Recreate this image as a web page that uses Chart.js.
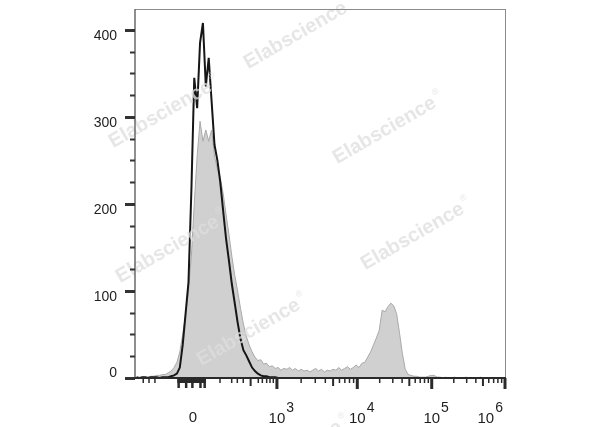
<!DOCTYPE html>
<html>
<head>
<meta charset="utf-8">
<title>Flow histogram</title>
<script src="https://cdn.jsdelivr.net/npm/chart.js@4.4.1/dist/chart.umd.min.js"></script>
<style>
  html, body { margin: 0; padding: 0; background: #ffffff; }
  canvas { display: block; }
</style>
</head>
<body>
<canvas id="histChart" width="600" height="427"></canvas>
<script>
// 128 bins of 2 channels each on a 256 channel (biexponential) display scale
const binWidth = 2;

// black outline histogram (stained sample)
const stainedCounts = [
  1, 0, 1, 1, 0, 1, 1, 1, 0, 1, 1, 1, 2,
  3, 5, 12, 38, 74, 110, 215, 345, 310, 385, 408, 335, 368, 318, 268,
  250, 225, 192, 160, 135, 108, 86, 64, 45, 32, 26, 19, 12, 8, 5, 3, 2, 2, 1, 1, 1,
  0, 0, 0, 0, 0, 0, 0, 0, 0, 0, 0, 0, 0, 0, 0, 0, 0, 0, 0, 0,
  0, 0, 0, 0, 0, 0, 0, 0, 0, 0, 0, 0, 0, 0, 0, 0, 0, 0, 0, 0,
  0, 0, 0, 0, 0, 0, 0, 0, 0, 0, 0, 0, 0, 0, 0, 0, 0, 0, 0, 0,
  0, 0, 0, 0, 0, 0, 0, 0, 0, 0, 0, 0, 0, 0, 0, 0, 0, 0, 0
];

// grey filled histogram (control)
const controlCounts = [
  0, 0, 1, 1, 1, 2, 2, 3, 3, 4, 4, 6, 8,
  12, 18, 30, 50, 72, 100, 140, 200, 255, 295, 272, 285, 272, 285, 255,
  240, 230, 212, 188, 165, 140, 118, 100, 80, 62, 48, 38, 30, 24, 20, 21, 16, 17, 13, 14, 11,
  12, 9, 11, 10, 12, 9, 11, 8, 10, 8, 9, 7, 9, 11, 8, 10, 7, 9, 8, 10, 9, 12, 9, 11, 13, 10, 12, 15, 12, 17, 18,
  24, 30, 38, 46, 55, 78, 76, 82, 86, 83, 74, 52, 28, 10, 4, 3, 2, 2, 1, 1, 1, 2, 3, 3,
  1, 1, 0, 1, 0, 0, 1, 0, 0, 0, 1, 0, 0, 0, 0, 1, 0, 0, 0, 0, 0, 0, 0, 0
];

// x axis (channel units)
const zeroChannel = 40.1;
const decadeChannels = [98.2, 153.8, 205.3, 256];   // 10^3 .. 10^6
const decadeExponents = ['3', '4', '5', '6'];
const negativeTicks = [5.7, 9.7, 13.8];
const linearBand = [29.3, 49.1];
const linearProngs = [30.2, 35.4, 39.7, 45.3, 48.2];
const lowDecadeTicks = [58.8, 66.9, 70.8, 74.9, 85.3, 88.1, 91.1, 93.4, 95.7];
const lowDecadeMid = [80.0];

// y axis
const yMax = 424;
const yLabelTicks = [0, 100, 200, 300, 400];
const yMinorStep = 25;

const watermarkSpots = [[165, 112], [300, 33], [389, 128], [172, 247], [417, 234], [253, 330], [295, 452]];

const labelFont = '"Liberation Sans", Arial, Helvetica, sans-serif';

function toPoints(counts) {
    return counts.map((c, i) => ({ x: i * binWidth + binWidth / 2, y: c }));
}

function vLine(ctx, x, y0, y1, w) {
    ctx.lineWidth = w;
    ctx.beginPath();
    ctx.moveTo(x, y0);
    ctx.lineTo(x, y1);
    ctx.stroke();
}

function hLine(ctx, x0, x1, y, w) {
    ctx.lineWidth = w;
    ctx.beginPath();
    ctx.moveTo(x0, y);
    ctx.lineTo(x1, y);
    ctx.stroke();
}

// "10" with a raised exponent, centred on the tick (or right aligned for the last one)
function drawPower(ctx, px, exp, alignRight) {
    ctx.font = '15px ' + labelFont;
    const wBase = ctx.measureText('10').width;
    ctx.font = '14px ' + labelFont;
    const wExp = ctx.measureText(exp).width;
    const left = alignRight ? px - 2 - (wBase + 1 + wExp) : px - wBase / 2;
    ctx.textAlign = 'left';
    ctx.textBaseline = 'alphabetic';
    ctx.font = '15px ' + labelFont;
    ctx.fillText('10', left, 423);
    ctx.font = '14px ' + labelFont;
    ctx.fillText(exp, left + wBase + 1, 412);
}

const flowAxes = {
    id: 'flowAxes',
    afterDraw(chart) {
        const { ctx, chartArea: a, scales: { x, y } } = chart;
        const bottom = a.bottom;
        ctx.save();

        // watermarks
        ctx.fillStyle = 'rgba(222, 222, 222, 0.75)';
        watermarkSpots.forEach(([cx, cy]) => {
            ctx.save();
            ctx.translate(cx, cy);
            ctx.rotate(-30 * Math.PI / 180);
            ctx.font = 'bold 20px ' + labelFont;
            ctx.textAlign = 'center';
            ctx.textBaseline = 'middle';
            const w = ctx.measureText('Elabscience').width;
            ctx.fillText('Elabscience', -5, 0);
            ctx.font = '9px ' + labelFont;
            ctx.textAlign = 'left';
            ctx.fillText('\u00AE', w / 2 - 3, -8);
            ctx.restore();
        });

        // frame
        ctx.strokeStyle = '#8a8a8a';
        hLine(ctx, a.left, a.right + 1, a.top + 0.5, 1);
        vLine(ctx, a.right + 0.5, a.top, bottom, 1);
        ctx.strokeStyle = '#6a6a6a';
        vLine(ctx, a.left, a.top, bottom, 1.5);
        ctx.strokeStyle = '#2a2a2a';
        hLine(ctx, a.left, a.right + 1, bottom, 2);

        // y ticks
        ctx.strokeStyle = '#333333';
        for (let v = 0; v <= 400; v += yMinorStep) {
            const py = Math.round(y.getPixelForValue(v)) + 0.5;
            if (yLabelTicks.includes(v)) {
                hLine(ctx, a.left - 10, a.left, py, 3);
            } else {
                hLine(ctx, a.left - 5, a.left, py, 2);
            }
        }
        ctx.fillStyle = '#1e1e1e';
        ctx.font = '14px ' + labelFont;
        ctx.textAlign = 'right';
        ctx.textBaseline = 'alphabetic';
        yLabelTicks.forEach(v => {
            const py = y.getPixelForValue(v);
            ctx.fillText(String(v), 117, v === 0 ? py - 1 : py + 10);
        });

        // x ticks
        ctx.strokeStyle = '#2a2a2a';
        negativeTicks.forEach(c => vLine(ctx, x.getPixelForValue(c), bottom, bottom + 5, 1.5));
        ctx.fillStyle = '#2a2a2a';
        const b0 = x.getPixelForValue(linearBand[0]);
        const b1 = x.getPixelForValue(linearBand[1]);
        ctx.fillRect(b0, bottom, b1 - b0, 5);
        linearProngs.forEach(c => vLine(ctx, x.getPixelForValue(c), bottom, bottom + 10, 2.5));
        lowDecadeTicks.forEach(c => vLine(ctx, x.getPixelForValue(c), bottom, bottom + 5, 1.5));
        lowDecadeMid.forEach(c => vLine(ctx, x.getPixelForValue(c), bottom, bottom + 8, 2));
        for (let d = 0; d < decadeChannels.length - 1; d++) {
            const c0 = decadeChannels[d];
            const span = decadeChannels[d + 1] - c0;
            for (let k = 2; k <= 9; k++) {
                const px = x.getPixelForValue(c0 + span * Math.log10(k));
                if (k === 5) vLine(ctx, px, bottom, bottom + 8, 2);
                else vLine(ctx, px, bottom, bottom + 5, 1.5);
            }
        }
        decadeChannels.forEach(c => vLine(ctx, Math.min(x.getPixelForValue(c), a.right), bottom, bottom + 11, 3));

        // x labels
        ctx.fillStyle = '#1e1e1e';
        ctx.font = '15px ' + labelFont;
        ctx.textAlign = 'center';
        ctx.fillText('0', x.getPixelForValue(zeroChannel), 422);
        decadeChannels.forEach((c, i) => {
            drawPower(ctx, x.getPixelForValue(c), decadeExponents[i], i === decadeChannels.length - 1);
        });

        ctx.restore();
    }
};

new Chart(document.getElementById('histChart'), {
    type: 'line',
    data: {
        datasets: [
            {
                label: 'Stained',
                data: toPoints(stainedCounts),
                borderColor: '#161616',
                borderWidth: 2,
                pointRadius: 0,
                tension: 0,
                fill: false,
                order: 0
            },
            {
                label: 'Control',
                data: toPoints(controlCounts),
                borderColor: '#a9a9a9',
                backgroundColor: '#d0d0d0',
                borderWidth: 1,
                pointRadius: 0,
                tension: 0,
                fill: 'origin',
                order: 1
            }
        ]
    },
    options: {
        responsive: false,
        animation: false,
        events: [],
        layout: { padding: { left: 135, right: 95, top: 9, bottom: 49 } },
        scales: {
            x: { type: 'linear', min: 0, max: 256, display: false },
            y: { min: 0, max: yMax, display: false }
        },
        plugins: {
            legend: { display: false },
            tooltip: { enabled: false }
        }
    },
    plugins: [flowAxes]
});
</script>
</body>
</html>
